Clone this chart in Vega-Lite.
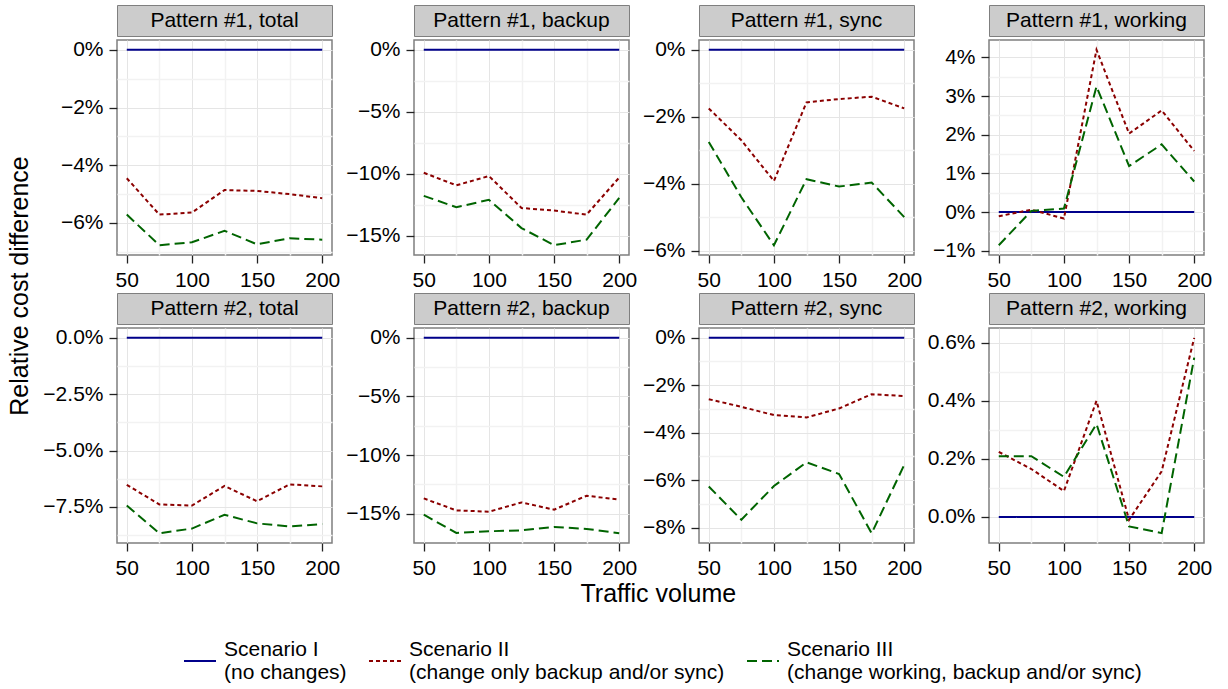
{
 "$schema": "https://vega.github.io/schema/vega-lite/v6.json",
 "padding": {"left": 5, "top": 4, "right": 5, "bottom": 0},
 "background": "white",
 "config": {
  "font": "Liberation Sans",
  "view": {"stroke": "#7F7F7F", "strokeWidth": 1.5},
  "axis": {"domain": false, "tickColor": "#222222", "tickSize": 8, "tickWidth": 1.3, "labelFontSize": 21, "labelColor": "#000000", "labelPadding": 6, "labelOverlap": false, "labelFlush": false, "labelFont": "Liberation Sans"},
  "text": {"font": "Liberation Sans", "color": "#000000"},
  "legend": {"orient": "none", "legendX": 178, "legendY": 639, "direction": "horizontal", "symbolType": "stroke", "symbolSize": 1024, "symbolStrokeWidth": 2, "labelFontSize": 21, "labelLimit": 600, "labelOffset": 7, "labelBaseline": "line-bottom", "columnPadding": 18, "padding": 0, "labelColor": "#000000", "labelFont": "Liberation Sans"}
 },
 "datasets": {"d": [
  {"p":"1t","s":"I","x":50,"v":0},{"p":"1t","s":"I","x":75,"v":0},{"p":"1t","s":"I","x":100,"v":0},{"p":"1t","s":"I","x":125,"v":0},{"p":"1t","s":"I","x":150,"v":0},{"p":"1t","s":"I","x":175,"v":0},{"p":"1t","s":"I","x":200,"v":0},
  {"p":"1t","s":"II","x":50,"v":-4.45},{"p":"1t","s":"II","x":75,"v":-5.71},{"p":"1t","s":"II","x":100,"v":-5.64},{"p":"1t","s":"II","x":125,"v":-4.86},{"p":"1t","s":"II","x":150,"v":-4.89},{"p":"1t","s":"II","x":175,"v":-5.0},{"p":"1t","s":"II","x":200,"v":-5.14},
  {"p":"1t","s":"III","x":50,"v":-5.71},{"p":"1t","s":"III","x":75,"v":-6.77},{"p":"1t","s":"III","x":100,"v":-6.67},{"p":"1t","s":"III","x":125,"v":-6.27},{"p":"1t","s":"III","x":150,"v":-6.74},{"p":"1t","s":"III","x":175,"v":-6.53},{"p":"1t","s":"III","x":200,"v":-6.58},
  {"p":"1b","s":"I","x":50,"v":0},{"p":"1b","s":"I","x":75,"v":0},{"p":"1b","s":"I","x":100,"v":0},{"p":"1b","s":"I","x":125,"v":0},{"p":"1b","s":"I","x":150,"v":0},{"p":"1b","s":"I","x":175,"v":0},{"p":"1b","s":"I","x":200,"v":0},
  {"p":"1b","s":"II","x":50,"v":-9.92},{"p":"1b","s":"II","x":75,"v":-10.93},{"p":"1b","s":"II","x":100,"v":-10.18},{"p":"1b","s":"II","x":125,"v":-12.76},{"p":"1b","s":"II","x":150,"v":-12.97},{"p":"1b","s":"II","x":175,"v":-13.29},{"p":"1b","s":"II","x":200,"v":-10.3},
  {"p":"1b","s":"III","x":50,"v":-11.78},{"p":"1b","s":"III","x":75,"v":-12.7},{"p":"1b","s":"III","x":100,"v":-12.1},{"p":"1b","s":"III","x":125,"v":-14.38},{"p":"1b","s":"III","x":150,"v":-15.76},{"p":"1b","s":"III","x":175,"v":-15.31},{"p":"1b","s":"III","x":200,"v":-11.95},
  {"p":"1s","s":"I","x":50,"v":0},{"p":"1s","s":"I","x":75,"v":0},{"p":"1s","s":"I","x":100,"v":0},{"p":"1s","s":"I","x":125,"v":0},{"p":"1s","s":"I","x":150,"v":0},{"p":"1s","s":"I","x":175,"v":0},{"p":"1s","s":"I","x":200,"v":0},
  {"p":"1s","s":"II","x":50,"v":-1.75},{"p":"1s","s":"II","x":75,"v":-2.7},{"p":"1s","s":"II","x":100,"v":-3.91},{"p":"1s","s":"II","x":125,"v":-1.57},{"p":"1s","s":"II","x":150,"v":-1.47},{"p":"1s","s":"II","x":175,"v":-1.4},{"p":"1s","s":"II","x":200,"v":-1.75},
  {"p":"1s","s":"III","x":50,"v":-2.75},{"p":"1s","s":"III","x":75,"v":-4.4},{"p":"1s","s":"III","x":100,"v":-5.83},{"p":"1s","s":"III","x":125,"v":-3.86},{"p":"1s","s":"III","x":150,"v":-4.08},{"p":"1s","s":"III","x":175,"v":-3.96},{"p":"1s","s":"III","x":200,"v":-4.99},
  {"p":"1w","s":"I","x":50,"v":0},{"p":"1w","s":"I","x":75,"v":0},{"p":"1w","s":"I","x":100,"v":0},{"p":"1w","s":"I","x":125,"v":0},{"p":"1w","s":"I","x":150,"v":0},{"p":"1w","s":"I","x":175,"v":0},{"p":"1w","s":"I","x":200,"v":0},
  {"p":"1w","s":"II","x":50,"v":-0.11},{"p":"1w","s":"II","x":75,"v":0.06},{"p":"1w","s":"II","x":100,"v":-0.17},{"p":"1w","s":"II","x":125,"v":4.2},{"p":"1w","s":"II","x":150,"v":2.03},{"p":"1w","s":"II","x":175,"v":2.63},{"p":"1w","s":"II","x":200,"v":1.58},
  {"p":"1w","s":"III","x":50,"v":-0.86},{"p":"1w","s":"III","x":75,"v":0.03},{"p":"1w","s":"III","x":100,"v":0.09},{"p":"1w","s":"III","x":125,"v":3.25},{"p":"1w","s":"III","x":150,"v":1.19},{"p":"1w","s":"III","x":175,"v":1.75},{"p":"1w","s":"III","x":200,"v":0.79},
  {"p":"2t","s":"I","x":50,"v":0},{"p":"2t","s":"I","x":75,"v":0},{"p":"2t","s":"I","x":100,"v":0},{"p":"2t","s":"I","x":125,"v":0},{"p":"2t","s":"I","x":150,"v":0},{"p":"2t","s":"I","x":175,"v":0},{"p":"2t","s":"I","x":200,"v":0},
  {"p":"2t","s":"II","x":50,"v":-6.52},{"p":"2t","s":"II","x":75,"v":-7.39},{"p":"2t","s":"II","x":100,"v":-7.44},{"p":"2t","s":"II","x":125,"v":-6.57},{"p":"2t","s":"II","x":150,"v":-7.25},{"p":"2t","s":"II","x":175,"v":-6.5},{"p":"2t","s":"II","x":200,"v":-6.59},
  {"p":"2t","s":"III","x":50,"v":-7.44},{"p":"2t","s":"III","x":75,"v":-8.67},{"p":"2t","s":"III","x":100,"v":-8.46},{"p":"2t","s":"III","x":125,"v":-7.85},{"p":"2t","s":"III","x":150,"v":-8.23},{"p":"2t","s":"III","x":175,"v":-8.37},{"p":"2t","s":"III","x":200,"v":-8.26},
  {"p":"2b","s":"I","x":50,"v":0},{"p":"2b","s":"I","x":75,"v":0},{"p":"2b","s":"I","x":100,"v":0},{"p":"2b","s":"I","x":125,"v":0},{"p":"2b","s":"I","x":150,"v":0},{"p":"2b","s":"I","x":175,"v":0},{"p":"2b","s":"I","x":200,"v":0},
  {"p":"2b","s":"II","x":50,"v":-13.7},{"p":"2b","s":"II","x":75,"v":-14.72},{"p":"2b","s":"II","x":100,"v":-14.83},{"p":"2b","s":"II","x":125,"v":-14.04},{"p":"2b","s":"II","x":150,"v":-14.66},{"p":"2b","s":"II","x":175,"v":-13.47},{"p":"2b","s":"II","x":200,"v":-13.8},
  {"p":"2b","s":"III","x":50,"v":-15.09},{"p":"2b","s":"III","x":75,"v":-16.64},{"p":"2b","s":"III","x":100,"v":-16.5},{"p":"2b","s":"III","x":125,"v":-16.42},{"p":"2b","s":"III","x":150,"v":-16.13},{"p":"2b","s":"III","x":175,"v":-16.3},{"p":"2b","s":"III","x":200,"v":-16.67},
  {"p":"2s","s":"I","x":50,"v":0},{"p":"2s","s":"I","x":75,"v":0},{"p":"2s","s":"I","x":100,"v":0},{"p":"2s","s":"I","x":125,"v":0},{"p":"2s","s":"I","x":150,"v":0},{"p":"2s","s":"I","x":175,"v":0},{"p":"2s","s":"I","x":200,"v":0},
  {"p":"2s","s":"II","x":50,"v":-2.59},{"p":"2s","s":"II","x":75,"v":-2.91},{"p":"2s","s":"II","x":100,"v":-3.26},{"p":"2s","s":"II","x":125,"v":-3.36},{"p":"2s","s":"II","x":150,"v":-2.98},{"p":"2s","s":"II","x":175,"v":-2.38},{"p":"2s","s":"II","x":200,"v":-2.46},
  {"p":"2s","s":"III","x":50,"v":-6.27},{"p":"2s","s":"III","x":75,"v":-7.67},{"p":"2s","s":"III","x":100,"v":-6.25},{"p":"2s","s":"III","x":125,"v":-5.25},{"p":"2s","s":"III","x":150,"v":-5.74},{"p":"2s","s":"III","x":175,"v":-8.24},{"p":"2s","s":"III","x":200,"v":-5.36},
  {"p":"2w","s":"I","x":50,"v":0},{"p":"2w","s":"I","x":75,"v":0},{"p":"2w","s":"I","x":100,"v":0},{"p":"2w","s":"I","x":125,"v":0},{"p":"2w","s":"I","x":150,"v":0},{"p":"2w","s":"I","x":175,"v":0},{"p":"2w","s":"I","x":200,"v":0},
  {"p":"2w","s":"II","x":50,"v":0.224},{"p":"2w","s":"II","x":75,"v":0.165},{"p":"2w","s":"II","x":100,"v":0.089},{"p":"2w","s":"II","x":125,"v":0.4},{"p":"2w","s":"II","x":150,"v":-0.01},{"p":"2w","s":"II","x":175,"v":0.157},{"p":"2w","s":"II","x":200,"v":0.617},
  {"p":"2w","s":"III","x":50,"v":0.209},{"p":"2w","s":"III","x":75,"v":0.209},{"p":"2w","s":"III","x":100,"v":0.138},{"p":"2w","s":"III","x":125,"v":0.32},{"p":"2w","s":"III","x":150,"v":-0.033},{"p":"2w","s":"III","x":175,"v":-0.056},{"p":"2w","s":"III","x":200,"v":0.549}
 ]},
 "spacing": 7,
 "hconcat": [
  {
   "width": 30, "height": 562,
   "data": {"values": [{"t": "Relative cost difference"}]},
   "mark": {"type": "text", "angle": 270, "fontSize": 25},
   "encoding": {"text": {"field": "t"}},
   "view": {"stroke": null}
  },
  {
   "columns": 4,
   "align": "each",
   "spacing": {"row": 0, "column": 3},
   "title": {"text": "Traffic volume", "orient": "bottom", "anchor": "middle", "fontSize": 25, "fontWeight": "normal", "color": "#000000", "font": "Liberation Sans", "dx": 31, "offset": 3},
   "concat": [
    {"width": 215, "height": 31, "data": {"values": [{"label": "Pattern #1, total"}]}, "mark": {"type": "text", "fontSize": 21}, "encoding": {"text": {"field": "label"}}, "view": {"fill": "#CCCCCC", "stroke": "#7F7F7F"}},
    {"width": 215, "height": 31, "data": {"values": [{"label": "Pattern #1, backup"}]}, "mark": {"type": "text", "fontSize": 21}, "encoding": {"text": {"field": "label"}}, "view": {"fill": "#CCCCCC", "stroke": "#7F7F7F"}},
    {"width": 215, "height": 31, "data": {"values": [{"label": "Pattern #1, sync"}]}, "mark": {"type": "text", "fontSize": 21}, "encoding": {"text": {"field": "label"}}, "view": {"fill": "#CCCCCC", "stroke": "#7F7F7F"}},
    {"width": 215, "height": 31, "data": {"values": [{"label": "Pattern #1, working"}]}, "mark": {"type": "text", "fontSize": 21}, "encoding": {"text": {"field": "label"}}, "view": {"fill": "#CCCCCC", "stroke": "#7F7F7F"}},
    {
     "width": 215, "height": 215, "data": {"name": "d"}, "transform": [{"filter": "datum.p == '1t'"}],
     "mark": {"type": "line", "strokeWidth": 2},
     "encoding": {
      "x": {"field": "x", "type": "quantitative", "scale": {"domain": [42.5, 207.5], "nice": false, "zero": false}, "axis": {"title": " ", "titleFontSize": 1, "titlePadding": 0, "values": [50,75,100,125,150,175,200], "labelExpr": "datum.value % 50 == 0 ? datum.label : ''", "gridColor": {"condition": {"test": "datum.value % 50 != 0", "value": "#F2F2F2"}, "value": "#E5E5E5"}, "gridWidth": {"condition": {"test": "datum.value % 50 != 0", "value": 1.5}, "value": 1}, "tickOpacity": {"condition": {"test": "datum.value % 50 != 0", "value": 0}, "value": 1}}},
      "y": {"field": "v", "type": "quantitative", "scale": {"domain": [-7.11, 0.34], "nice": false, "zero": false}, "axis": {"title": null, "values": [0,-1,-2,-3,-4,-5,-6,-7], "labelExpr": "abs(datum.value/2 - round(datum.value/2)) > 0.001 ? '' : format(datum.value, '.0f') + '%'", "gridColor": {"condition": {"test": "abs(datum.value/2 - round(datum.value/2)) > 0.001", "value": "#F2F2F2"}, "value": "#E5E5E5"}, "gridWidth": {"condition": {"test": "abs(datum.value/2 - round(datum.value/2)) > 0.001", "value": 1.5}, "value": 1}, "tickOpacity": {"condition": {"test": "abs(datum.value/2 - round(datum.value/2)) > 0.001", "value": 0}, "value": 1}}},
      "color": {"field": "s", "type": "nominal", "scale": {"domain": ["I","II","III"], "range": ["#00008B","#8B0000","#006400"]}, "legend": {"title": null, "labelExpr": "datum.label == 'I' ? ['Scenario I', '(no changes)'] : datum.label == 'II' ? ['Scenario II', '(change only backup and/or sync)'] : ['Scenario III', '(change working, backup and/or sync)']"}},
      "strokeDash": {"field": "s", "type": "nominal", "scale": {"domain": ["I","II","III"], "range": [[1,0],[4,3],[10,5]]}, "legend": {"title": null, "labelExpr": "datum.label == 'I' ? ['Scenario I', '(no changes)'] : datum.label == 'II' ? ['Scenario II', '(change only backup and/or sync)'] : ['Scenario III', '(change working, backup and/or sync)']"}}
     }
    },
    {
     "width": 215, "height": 215, "data": {"name": "d"}, "transform": [{"filter": "datum.p == '1b'"}],
     "mark": {"type": "line", "strokeWidth": 2},
     "encoding": {
      "x": {"field": "x", "type": "quantitative", "scale": {"domain": [42.5, 207.5], "nice": false, "zero": false}, "axis": {"title": " ", "titleFontSize": 1, "titlePadding": 0, "values": [50,75,100,125,150,175,200], "labelExpr": "datum.value % 50 == 0 ? datum.label : ''", "gridColor": {"condition": {"test": "datum.value % 50 != 0", "value": "#F2F2F2"}, "value": "#E5E5E5"}, "gridWidth": {"condition": {"test": "datum.value % 50 != 0", "value": 1.5}, "value": 1}, "tickOpacity": {"condition": {"test": "datum.value % 50 != 0", "value": 0}, "value": 1}}},
      "y": {"field": "v", "type": "quantitative", "scale": {"domain": [-16.55, 0.79], "nice": false, "zero": false}, "axis": {"title": null, "values": [0,-2.5,-5,-7.5,-10,-12.5,-15], "labelExpr": "abs(datum.value/5 - round(datum.value/5)) > 0.001 ? '' : format(datum.value, '.0f') + '%'", "gridColor": {"condition": {"test": "abs(datum.value/5 - round(datum.value/5)) > 0.001", "value": "#F2F2F2"}, "value": "#E5E5E5"}, "gridWidth": {"condition": {"test": "abs(datum.value/5 - round(datum.value/5)) > 0.001", "value": 1.5}, "value": 1}, "tickOpacity": {"condition": {"test": "abs(datum.value/5 - round(datum.value/5)) > 0.001", "value": 0}, "value": 1}}},
      "color": {"field": "s", "type": "nominal", "scale": {"domain": ["I","II","III"], "range": ["#00008B","#8B0000","#006400"]}, "legend": {"title": null, "labelExpr": "datum.label == 'I' ? ['Scenario I', '(no changes)'] : datum.label == 'II' ? ['Scenario II', '(change only backup and/or sync)'] : ['Scenario III', '(change working, backup and/or sync)']"}},
      "strokeDash": {"field": "s", "type": "nominal", "scale": {"domain": ["I","II","III"], "range": [[1,0],[4,3],[10,5]]}, "legend": {"title": null, "labelExpr": "datum.label == 'I' ? ['Scenario I', '(no changes)'] : datum.label == 'II' ? ['Scenario II', '(change only backup and/or sync)'] : ['Scenario III', '(change working, backup and/or sync)']"}}
     }
    },
    {
     "width": 215, "height": 215, "data": {"name": "d"}, "transform": [{"filter": "datum.p == '1s'"}],
     "mark": {"type": "line", "strokeWidth": 2},
     "encoding": {
      "x": {"field": "x", "type": "quantitative", "scale": {"domain": [42.5, 207.5], "nice": false, "zero": false}, "axis": {"title": " ", "titleFontSize": 1, "titlePadding": 0, "values": [50,75,100,125,150,175,200], "labelExpr": "datum.value % 50 == 0 ? datum.label : ''", "gridColor": {"condition": {"test": "datum.value % 50 != 0", "value": "#F2F2F2"}, "value": "#E5E5E5"}, "gridWidth": {"condition": {"test": "datum.value % 50 != 0", "value": 1.5}, "value": 1}, "tickOpacity": {"condition": {"test": "datum.value % 50 != 0", "value": 0}, "value": 1}}},
      "y": {"field": "v", "type": "quantitative", "scale": {"domain": [-6.12, 0.29], "nice": false, "zero": false}, "axis": {"title": null, "values": [0,-1,-2,-3,-4,-5,-6], "labelExpr": "abs(datum.value/2 - round(datum.value/2)) > 0.001 ? '' : format(datum.value, '.0f') + '%'", "gridColor": {"condition": {"test": "abs(datum.value/2 - round(datum.value/2)) > 0.001", "value": "#F2F2F2"}, "value": "#E5E5E5"}, "gridWidth": {"condition": {"test": "abs(datum.value/2 - round(datum.value/2)) > 0.001", "value": 1.5}, "value": 1}, "tickOpacity": {"condition": {"test": "abs(datum.value/2 - round(datum.value/2)) > 0.001", "value": 0}, "value": 1}}},
      "color": {"field": "s", "type": "nominal", "scale": {"domain": ["I","II","III"], "range": ["#00008B","#8B0000","#006400"]}, "legend": {"title": null, "labelExpr": "datum.label == 'I' ? ['Scenario I', '(no changes)'] : datum.label == 'II' ? ['Scenario II', '(change only backup and/or sync)'] : ['Scenario III', '(change working, backup and/or sync)']"}},
      "strokeDash": {"field": "s", "type": "nominal", "scale": {"domain": ["I","II","III"], "range": [[1,0],[4,3],[10,5]]}, "legend": {"title": null, "labelExpr": "datum.label == 'I' ? ['Scenario I', '(no changes)'] : datum.label == 'II' ? ['Scenario II', '(change only backup and/or sync)'] : ['Scenario III', '(change working, backup and/or sync)']"}}
     }
    },
    {
     "width": 215, "height": 215, "data": {"name": "d"}, "transform": [{"filter": "datum.p == '1w'"}],
     "mark": {"type": "line", "strokeWidth": 2},
     "encoding": {
      "x": {"field": "x", "type": "quantitative", "scale": {"domain": [42.5, 207.5], "nice": false, "zero": false}, "axis": {"title": " ", "titleFontSize": 1, "titlePadding": 0, "values": [50,75,100,125,150,175,200], "labelExpr": "datum.value % 50 == 0 ? datum.label : ''", "gridColor": {"condition": {"test": "datum.value % 50 != 0", "value": "#F2F2F2"}, "value": "#E5E5E5"}, "gridWidth": {"condition": {"test": "datum.value % 50 != 0", "value": 1.5}, "value": 1}, "tickOpacity": {"condition": {"test": "datum.value % 50 != 0", "value": 0}, "value": 1}}},
      "y": {"field": "v", "type": "quantitative", "scale": {"domain": [-1.113, 4.453], "nice": false, "zero": false}, "axis": {"title": null, "values": [-1,-0.5,0,0.5,1,1.5,2,2.5,3,3.5,4], "labelExpr": "abs(datum.value - round(datum.value)) > 0.001 ? '' : format(datum.value, '.0f') + '%'", "gridColor": {"condition": {"test": "abs(datum.value - round(datum.value)) > 0.001", "value": "#F2F2F2"}, "value": "#E5E5E5"}, "gridWidth": {"condition": {"test": "abs(datum.value - round(datum.value)) > 0.001", "value": 1.5}, "value": 1}, "tickOpacity": {"condition": {"test": "abs(datum.value - round(datum.value)) > 0.001", "value": 0}, "value": 1}}},
      "color": {"field": "s", "type": "nominal", "scale": {"domain": ["I","II","III"], "range": ["#00008B","#8B0000","#006400"]}, "legend": {"title": null, "labelExpr": "datum.label == 'I' ? ['Scenario I', '(no changes)'] : datum.label == 'II' ? ['Scenario II', '(change only backup and/or sync)'] : ['Scenario III', '(change working, backup and/or sync)']"}},
      "strokeDash": {"field": "s", "type": "nominal", "scale": {"domain": ["I","II","III"], "range": [[1,0],[4,3],[10,5]]}, "legend": {"title": null, "labelExpr": "datum.label == 'I' ? ['Scenario I', '(no changes)'] : datum.label == 'II' ? ['Scenario II', '(change only backup and/or sync)'] : ['Scenario III', '(change working, backup and/or sync)']"}}
     }
    },
    {"width": 215, "height": 31, "data": {"values": [{"label": "Pattern #2, total"}]}, "mark": {"type": "text", "fontSize": 21}, "encoding": {"text": {"field": "label"}}, "view": {"fill": "#CCCCCC", "stroke": "#7F7F7F"}},
    {"width": 215, "height": 31, "data": {"values": [{"label": "Pattern #2, backup"}]}, "mark": {"type": "text", "fontSize": 21}, "encoding": {"text": {"field": "label"}}, "view": {"fill": "#CCCCCC", "stroke": "#7F7F7F"}},
    {"width": 215, "height": 31, "data": {"values": [{"label": "Pattern #2, sync"}]}, "mark": {"type": "text", "fontSize": 21}, "encoding": {"text": {"field": "label"}}, "view": {"fill": "#CCCCCC", "stroke": "#7F7F7F"}},
    {"width": 215, "height": 31, "data": {"values": [{"label": "Pattern #2, working"}]}, "mark": {"type": "text", "fontSize": 21}, "encoding": {"text": {"field": "label"}}, "view": {"fill": "#CCCCCC", "stroke": "#7F7F7F"}},
    {
     "width": 215, "height": 215, "data": {"name": "d"}, "transform": [{"filter": "datum.p == '2t'"}],
     "mark": {"type": "line", "strokeWidth": 2},
     "encoding": {
      "x": {"field": "x", "type": "quantitative", "scale": {"domain": [42.5, 207.5], "nice": false, "zero": false}, "axis": {"title": null, "values": [50,75,100,125,150,175,200], "labelExpr": "datum.value % 50 == 0 ? datum.label : ''", "gridColor": {"condition": {"test": "datum.value % 50 != 0", "value": "#F2F2F2"}, "value": "#E5E5E5"}, "gridWidth": {"condition": {"test": "datum.value % 50 != 0", "value": 1.5}, "value": 1}, "tickOpacity": {"condition": {"test": "datum.value % 50 != 0", "value": 0}, "value": 1}}},
      "y": {"field": "v", "type": "quantitative", "scale": {"domain": [-9.1, 0.43], "nice": false, "zero": false}, "axis": {"title": null, "values": [0,-1.25,-2.5,-3.75,-5,-6.25,-7.5,-8.75], "labelExpr": "abs(datum.value/2.5 - round(datum.value/2.5)) > 0.001 ? '' : format(datum.value, '.1f') + '%'", "gridColor": {"condition": {"test": "abs(datum.value/2.5 - round(datum.value/2.5)) > 0.001", "value": "#F2F2F2"}, "value": "#E5E5E5"}, "gridWidth": {"condition": {"test": "abs(datum.value/2.5 - round(datum.value/2.5)) > 0.001", "value": 1.5}, "value": 1}, "tickOpacity": {"condition": {"test": "abs(datum.value/2.5 - round(datum.value/2.5)) > 0.001", "value": 0}, "value": 1}}},
      "color": {"field": "s", "type": "nominal", "scale": {"domain": ["I","II","III"], "range": ["#00008B","#8B0000","#006400"]}, "legend": {"title": null, "labelExpr": "datum.label == 'I' ? ['Scenario I', '(no changes)'] : datum.label == 'II' ? ['Scenario II', '(change only backup and/or sync)'] : ['Scenario III', '(change working, backup and/or sync)']"}},
      "strokeDash": {"field": "s", "type": "nominal", "scale": {"domain": ["I","II","III"], "range": [[1,0],[4,3],[10,5]]}, "legend": {"title": null, "labelExpr": "datum.label == 'I' ? ['Scenario I', '(no changes)'] : datum.label == 'II' ? ['Scenario II', '(change only backup and/or sync)'] : ['Scenario III', '(change working, backup and/or sync)']"}}
     }
    },
    {
     "width": 215, "height": 215, "data": {"name": "d"}, "transform": [{"filter": "datum.p == '2b'"}],
     "mark": {"type": "line", "strokeWidth": 2},
     "encoding": {
      "x": {"field": "x", "type": "quantitative", "scale": {"domain": [42.5, 207.5], "nice": false, "zero": false}, "axis": {"title": null, "values": [50,75,100,125,150,175,200], "labelExpr": "datum.value % 50 == 0 ? datum.label : ''", "gridColor": {"condition": {"test": "datum.value % 50 != 0", "value": "#F2F2F2"}, "value": "#E5E5E5"}, "gridWidth": {"condition": {"test": "datum.value % 50 != 0", "value": 1.5}, "value": 1}, "tickOpacity": {"condition": {"test": "datum.value % 50 != 0", "value": 0}, "value": 1}}},
      "y": {"field": "v", "type": "quantitative", "scale": {"domain": [-17.5, 0.83], "nice": false, "zero": false}, "axis": {"title": null, "values": [0,-2.5,-5,-7.5,-10,-12.5,-15], "labelExpr": "abs(datum.value/5 - round(datum.value/5)) > 0.001 ? '' : format(datum.value, '.0f') + '%'", "gridColor": {"condition": {"test": "abs(datum.value/5 - round(datum.value/5)) > 0.001", "value": "#F2F2F2"}, "value": "#E5E5E5"}, "gridWidth": {"condition": {"test": "abs(datum.value/5 - round(datum.value/5)) > 0.001", "value": 1.5}, "value": 1}, "tickOpacity": {"condition": {"test": "abs(datum.value/5 - round(datum.value/5)) > 0.001", "value": 0}, "value": 1}}},
      "color": {"field": "s", "type": "nominal", "scale": {"domain": ["I","II","III"], "range": ["#00008B","#8B0000","#006400"]}, "legend": {"title": null, "labelExpr": "datum.label == 'I' ? ['Scenario I', '(no changes)'] : datum.label == 'II' ? ['Scenario II', '(change only backup and/or sync)'] : ['Scenario III', '(change working, backup and/or sync)']"}},
      "strokeDash": {"field": "s", "type": "nominal", "scale": {"domain": ["I","II","III"], "range": [[1,0],[4,3],[10,5]]}, "legend": {"title": null, "labelExpr": "datum.label == 'I' ? ['Scenario I', '(no changes)'] : datum.label == 'II' ? ['Scenario II', '(change only backup and/or sync)'] : ['Scenario III', '(change working, backup and/or sync)']"}}
     }
    },
    {
     "width": 215, "height": 215, "data": {"name": "d"}, "transform": [{"filter": "datum.p == '2s'"}],
     "mark": {"type": "line", "strokeWidth": 2},
     "encoding": {
      "x": {"field": "x", "type": "quantitative", "scale": {"domain": [42.5, 207.5], "nice": false, "zero": false}, "axis": {"title": null, "values": [50,75,100,125,150,175,200], "labelExpr": "datum.value % 50 == 0 ? datum.label : ''", "gridColor": {"condition": {"test": "datum.value % 50 != 0", "value": "#F2F2F2"}, "value": "#E5E5E5"}, "gridWidth": {"condition": {"test": "datum.value % 50 != 0", "value": 1.5}, "value": 1}, "tickOpacity": {"condition": {"test": "datum.value % 50 != 0", "value": 0}, "value": 1}}},
      "y": {"field": "v", "type": "quantitative", "scale": {"domain": [-8.65, 0.41], "nice": false, "zero": false}, "axis": {"title": null, "values": [0,-1,-2,-3,-4,-5,-6,-7,-8], "labelExpr": "abs(datum.value/2 - round(datum.value/2)) > 0.001 ? '' : format(datum.value, '.0f') + '%'", "gridColor": {"condition": {"test": "abs(datum.value/2 - round(datum.value/2)) > 0.001", "value": "#F2F2F2"}, "value": "#E5E5E5"}, "gridWidth": {"condition": {"test": "abs(datum.value/2 - round(datum.value/2)) > 0.001", "value": 1.5}, "value": 1}, "tickOpacity": {"condition": {"test": "abs(datum.value/2 - round(datum.value/2)) > 0.001", "value": 0}, "value": 1}}},
      "color": {"field": "s", "type": "nominal", "scale": {"domain": ["I","II","III"], "range": ["#00008B","#8B0000","#006400"]}, "legend": {"title": null, "labelExpr": "datum.label == 'I' ? ['Scenario I', '(no changes)'] : datum.label == 'II' ? ['Scenario II', '(change only backup and/or sync)'] : ['Scenario III', '(change working, backup and/or sync)']"}},
      "strokeDash": {"field": "s", "type": "nominal", "scale": {"domain": ["I","II","III"], "range": [[1,0],[4,3],[10,5]]}, "legend": {"title": null, "labelExpr": "datum.label == 'I' ? ['Scenario I', '(no changes)'] : datum.label == 'II' ? ['Scenario II', '(change only backup and/or sync)'] : ['Scenario III', '(change working, backup and/or sync)']"}}
     }
    },
    {
     "width": 215, "height": 215, "data": {"name": "d"}, "transform": [{"filter": "datum.p == '2w'"}],
     "mark": {"type": "line", "strokeWidth": 2},
     "encoding": {
      "x": {"field": "x", "type": "quantitative", "scale": {"domain": [42.5, 207.5], "nice": false, "zero": false}, "axis": {"title": null, "values": [50,75,100,125,150,175,200], "labelExpr": "datum.value % 50 == 0 ? datum.label : ''", "gridColor": {"condition": {"test": "datum.value % 50 != 0", "value": "#F2F2F2"}, "value": "#E5E5E5"}, "gridWidth": {"condition": {"test": "datum.value % 50 != 0", "value": 1.5}, "value": 1}, "tickOpacity": {"condition": {"test": "datum.value % 50 != 0", "value": 0}, "value": 1}}},
      "y": {"field": "v", "type": "quantitative", "scale": {"domain": [-0.09, 0.651], "nice": false, "zero": false}, "axis": {"title": null, "values": [0,0.1,0.2,0.3,0.4,0.5,0.6], "labelExpr": "abs(datum.value/0.2 - round(datum.value/0.2)) > 0.001 ? '' : format(datum.value, '.1f') + '%'", "gridColor": {"condition": {"test": "abs(datum.value/0.2 - round(datum.value/0.2)) > 0.001", "value": "#F2F2F2"}, "value": "#E5E5E5"}, "gridWidth": {"condition": {"test": "abs(datum.value/0.2 - round(datum.value/0.2)) > 0.001", "value": 1.5}, "value": 1}, "tickOpacity": {"condition": {"test": "abs(datum.value/0.2 - round(datum.value/0.2)) > 0.001", "value": 0}, "value": 1}}},
      "color": {"field": "s", "type": "nominal", "scale": {"domain": ["I","II","III"], "range": ["#00008B","#8B0000","#006400"]}, "legend": {"title": null, "labelExpr": "datum.label == 'I' ? ['Scenario I', '(no changes)'] : datum.label == 'II' ? ['Scenario II', '(change only backup and/or sync)'] : ['Scenario III', '(change working, backup and/or sync)']"}},
      "strokeDash": {"field": "s", "type": "nominal", "scale": {"domain": ["I","II","III"], "range": [[1,0],[4,3],[10,5]]}, "legend": {"title": null, "labelExpr": "datum.label == 'I' ? ['Scenario I', '(no changes)'] : datum.label == 'II' ? ['Scenario II', '(change only backup and/or sync)'] : ['Scenario III', '(change working, backup and/or sync)']"}}
     }
    }
   ]
  }
 ]
}
